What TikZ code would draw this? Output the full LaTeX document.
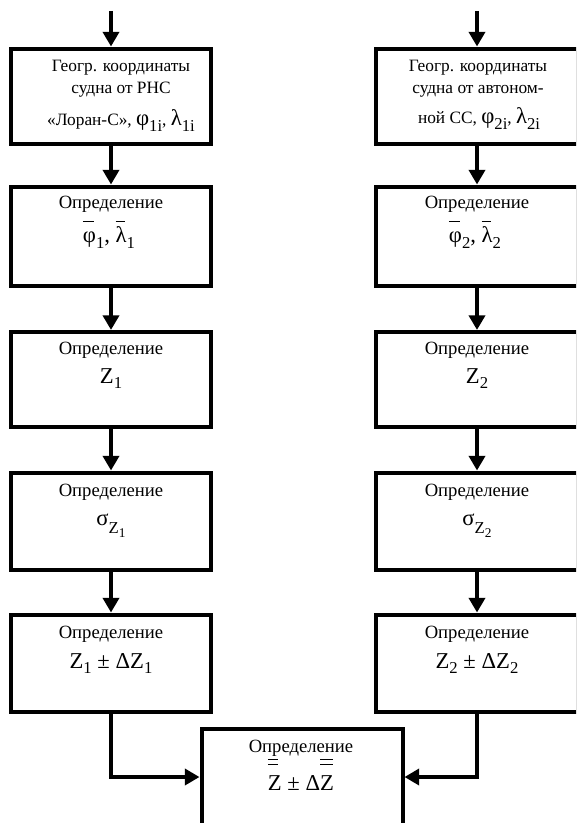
\documentclass[tikz,border=0pt]{standalone}
\usepackage{fontspec}
\setmainfont{Liberation Serif}
\usetikzlibrary{arrows.meta}
\newsavebox\ovbbox
% single bar over a glyph: #1 raise, #2 width factor, #3 glyph
\newcommand\ovb[3]{\sbox\ovbbox{#3}\makebox[0pt][l]{\raisebox{#1}{\rule{#2\wd\ovbbox}{0.8pt}}}\usebox\ovbbox}
% double bar over a glyph
\newcommand\dovb[3]{\sbox\ovbbox{#3}\makebox[0pt][l]{\raisebox{#1}{\rule{#2\wd\ovbbox}{0.8pt}}}\makebox[0pt][l]{\raisebox{\dimexpr#1+3.8pt\relax}{\rule{#2\wd\ovbbox}{0.8pt}}}\usebox\ovbbox}
\newcommand\sfnt{\fontsize{12.5}{14}\selectfont}
\newcommand\ssfnt{\fontsize{10}{12}\selectfont}
\newcommand\gfnt{\fontsize{17}{20}\selectfont}
\newcommand\sbs[1]{\raisebox{-4pt}{\sfnt #1}}
\begin{document}
\begin{tikzpicture}[x=0.75pt,y=-0.75pt,
  box/.style={draw, line width=3pt, minimum width=150pt, inner sep=0pt},
  arr/.style={line width=3pt, -{Triangle[length=11pt,width=12pt]}},
  ttl/.style={anchor=base, inner sep=0pt, font=\fontsize{14}{16}\selectfont},
  ttx/.style={anchor=base, inner sep=0pt, font=\fontsize{13}{15}\selectfont},
  mth/.style={anchor=base, inner sep=0pt, font=\gfnt}]
\useasboundingbox (0,0) rectangle (576,823);
\clip (0,0) rectangle (576,823);

% left column boxes
\node[box, minimum height=71.6pt] (l1) at (111,96.25) {};
\node[box, minimum height=74.6pt] (l2) at (111,236.25) {};
\node[box, minimum height=70.9pt] (l3) at (111,379.25) {};
\node[box, minimum height=72.75pt] (l4) at (111,521) {};
\node[box, minimum height=72.75pt] (l5) at (111,663) {};
% right column boxes
\node[box, minimum height=71.6pt, minimum width=151.5pt] (r1) at (477,96.25) {};
\node[box, minimum height=74.6pt, minimum width=151.5pt] (r2) at (477,236.25) {};
\node[box, minimum height=70.9pt, minimum width=151.5pt] (r3) at (477,379.25) {};
\node[box, minimum height=72.75pt, minimum width=151.5pt] (r4) at (477,521) {};
\node[box, minimum height=72.75pt, minimum width=151.5pt] (r5) at (477,663) {};
% bottom box (cut by the picture edge)
\node[box, minimum height=113.25pt, minimum width=150.75pt] (bot) at (302,804.5) {};

% texts, box 1
\node[ttx] (l1a) at (121,72) {Геогр. координаты};
\node[ttx] (l1b) at (121,94) {судна от РНС};
\node[ttx] (l1c) at (121,126) {«Лоран-С», {\gfnt φ}\sbs{1i}, {\gfnt λ}\sbs{1i}};
\node[ttx] (r1a) at (478,72) {Геогр. координаты};
\node[ttx] (r1b) at (478,94) {судна от автоном-};
\node[ttx] (r1c) at (479,124) {ной СС, {\gfnt φ}\sbs{2i}, {\gfnt λ}\sbs{2i}};

% box 2
\node[ttl] (l2t) at (111,209) {Определение};
\node[mth] (l2m) at (109,243) {\ovb{15.5pt}{0.85}{φ}\sbs{1}, \ovb{15.5pt}{0.85}{λ}\sbs{1}};
\node[ttl] (r2t) at (477,209) {Определение};
\node[mth] (r2m) at (475,243) {\ovb{15.5pt}{0.85}{φ}\sbs{2}, \ovb{15.5pt}{0.85}{λ}\sbs{2}};

% box 3
\node[ttl] (l3t) at (111,354) {Определение};
\node[mth] (l3m) at (111,383) {Z\sbs{1}};
\node[ttl] (r3t) at (477,354) {Определение};
\node[mth] (r3m) at (477,383) {Z\sbs{2}};

% box 4
\node[ttl] (l4t) at (111,496) {Определение};
\node[mth] (l4m) at (111,525) {σ\raisebox{-6pt}{\sfnt Z\raisebox{-3pt}{\ssfnt 1}}};
\node[ttl] (r4t) at (477,496) {Определение};
\node[mth] (r4m) at (477,525) {σ\raisebox{-6pt}{\sfnt Z\raisebox{-3pt}{\ssfnt 2}}};

% box 5
\node[ttl] (l5t) at (111,638) {Определение};
\node[mth] (l5m) at (111,668) {Z\sbs{1} ± ΔZ\sbs{1}};
\node[ttl] (r5t) at (477,638) {Определение};
\node[mth] (r5m) at (477,668) {Z\sbs{2} ± ΔZ\sbs{2}};

% bottom box
\node[ttl] (bt) at (301,752) {Определение};
\node[mth] (bm) at (301,790) {\dovb{18.5pt}{0.75}{Z} ± Δ\dovb{18.5pt}{0.95}{Z}};

% connectors
\coordinate (ls) at (111,11);
\coordinate (rs) at (477,11);
\coordinate (jy) at (0,777);
\draw[arr] (ls) -- (l1.north);
\draw[arr] (rs) -- (r1.north);
\draw[arr] (l1.south) -- (l2.north);
\draw[arr] (l2.south) -- (l3.north);
\draw[arr] (l3.south) -- (l4.north);
\draw[arr] (l4.south) -- (l5.north);
\draw[arr] (r1.south) -- (r2.north);
\draw[arr] (r2.south) -- (r3.north);
\draw[arr] (r3.south) -- (r4.north);
\draw[arr] (r4.south) -- (r5.north);
\draw[arr] (l5.south) |- (bot.west |- jy);
\draw[arr] (r5.south) |- (bot.east |- jy);
\end{tikzpicture}
\end{document}
